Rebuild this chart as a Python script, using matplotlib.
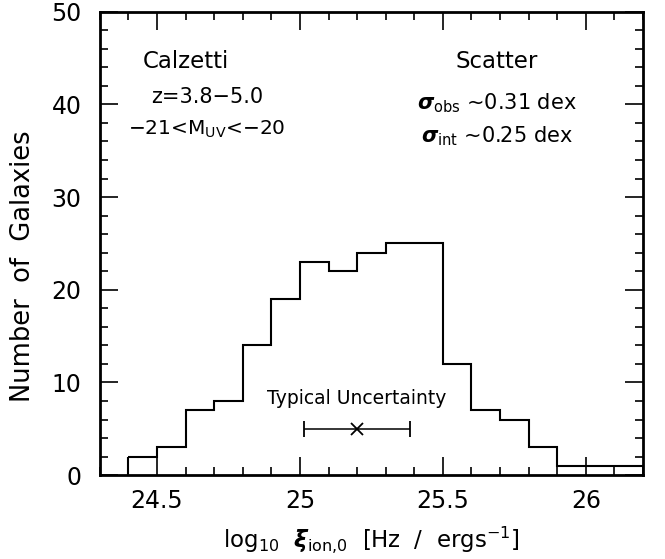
import matplotlib
matplotlib.use("Agg")
import matplotlib.pyplot as plt
from matplotlib.ticker import MultipleLocator

plt.rcParams["font.family"] = ["DejaVu Sans"]
plt.rcParams["mathtext.fontset"] = "custom"
plt.rcParams["mathtext.rm"] = "DejaVu Sans"
plt.rcParams["mathtext.it"] = "DejaVu Sans:italic:bold"
plt.rcParams["mathtext.bf"] = "DejaVu Sans:bold"

# histogram of log xi_ion,0, bins of 0.1 dex
bin_edges = [24.4, 24.5, 24.6, 24.7, 24.8, 24.9, 25.0, 25.1, 25.2, 25.3,
             25.4, 25.5, 25.6, 25.7, 25.8, 25.9, 26.0, 26.1, 26.2]
counts = [2, 3, 7, 8, 14, 19, 23, 22, 24, 25, 25, 12, 7, 6, 3, 1, 1, 1]

# typical uncertainty marker
err_x = 25.2
err_y = 5
err_dx = 0.185

fig = plt.figure(figsize=(6.65, 5.59), dpi=100)
ax = fig.add_axes([0.150, 0.150, 0.817, 0.829])

ax.stairs(counts, bin_edges, color="black", linewidth=1.5, baseline=None)
ax.vlines(bin_edges[0], 0, counts[0], color="black", linewidth=1.5)

ax.errorbar([err_x], [err_y], xerr=[err_dx], fmt="x", color="black",
            markersize=8, markeredgewidth=1.3, elinewidth=1.1, capsize=5.5,
            capthick=1.1)
ax.text(err_x, 8.3, "Typical Uncertainty", ha="center", va="center",
        fontsize=13.5)

ax.set_xlim(24.3, 26.2)
ax.set_ylim(0, 50)
ax.xaxis.set_major_locator(MultipleLocator(0.5))
ax.xaxis.set_minor_locator(MultipleLocator(0.1))
ax.yaxis.set_major_locator(MultipleLocator(10))
ax.yaxis.set_minor_locator(MultipleLocator(2))
ax.set_xticks([24.5, 25, 25.5, 26], ["24.5", "25", "25.5", "26"])

ax.tick_params(which="both", direction="in", top=True, right=True,
               labelsize=17, width=1.2)
ax.tick_params(axis="x", pad=10)
ax.tick_params(axis="y", pad=13)
ax.tick_params(which="major", length=13)
ax.tick_params(which="minor", length=6)
for s in ax.spines.values():
    s.set_linewidth(2)

ax.set_xlabel(r"log$_{10}$  $\xi_{\rm ion{,}0}$  [Hz  /  ergs$^{-1}$]",
              fontsize=16.5, labelpad=8)
ax.set_ylabel("Number  of  Galaxies", fontsize=18.5)
ax.yaxis.set_label_coords(-0.118, 0.45)

ax.text(24.60, 44.6, "Calzetti", fontsize=16.5, ha="center", va="center")
ax.text(24.674, 40.8, "z=3.8−5.0", fontsize=15, ha="center", va="center")
ax.text(24.674, 37.3, r"−21<M$_{\rm UV}$<−20", fontsize=14.5,
        ha="center", va="center")

ax.text(25.688, 44.6, "Scatter", fontsize=16.5, ha="center", va="center")
ax.text(25.688, 40.1, r"$\sigma_{\rm obs}$ ~0.31 dex", fontsize=15,
        ha="center", va="center")
ax.text(25.69, 36.6, r"$\sigma_{\rm int}$ ~0.25 dex", fontsize=15,
        ha="center", va="center")

fig.savefig("out.png", dpi=100)
